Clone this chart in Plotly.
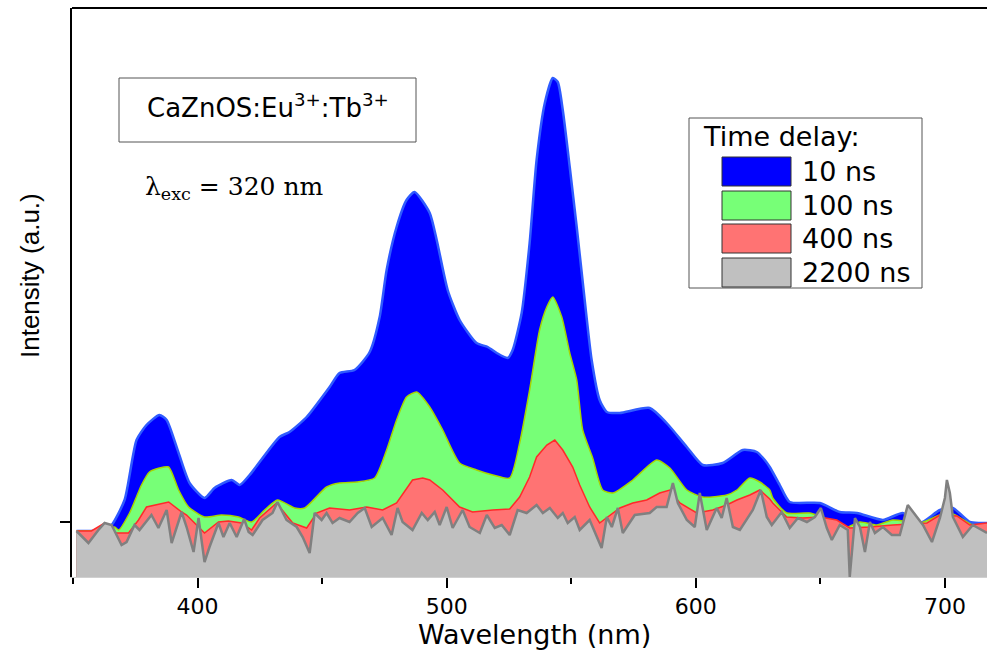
import plotly.graph_objects as go

# ---------------- data (wavelength in nm, intensity in a.u.) ----------------
wl_10ns = [351.4, 357.4, 362.7, 365.5, 370.7, 375.5, 379.5, 384.7, 387.6, 392.4,
           396.8, 402.8, 406.8, 413.7, 416.9, 420.9, 432.9, 436.9, 443.8, 453.0,
           457.0, 463.0, 469.1, 473.1, 475.9, 479.9, 483.9, 487.1, 493.2, 496.0,
           500.4, 505.2, 512.0, 516.5, 520.1, 524.5, 526.5, 530.1, 533.3, 536.1,
           539.4, 542.6, 544.6, 546.6, 549.4, 552.2, 555.4, 558.2, 561.4, 564.3,
           569.5, 581.5, 588.3, 596.4, 602.8, 610.8, 618.9, 624.5, 627.7, 629.7,
           633.7, 637.7, 649.8, 657.8, 664.7, 675.1, 683.1, 690.0, 698.0, 703.2,
           710.0, 714.0, 716.9]
int_10ns = [9.2, 9.2, 9.6, 10.4, 15.4, 27.4, 30.4, 32.4, 31.4, 24.8,
            18.8, 15.8, 17.8, 19.4, 18.4, 20.4, 28.0, 29.0, 32.0, 38.0,
            40.8, 41.4, 45.0, 52.0, 61.4, 70.0, 75.4, 77.0, 72.8, 67.4,
            57.4, 51.4, 46.8, 46.0, 44.8, 43.8, 45.4, 52.8, 66.8, 83.4,
            94.8, 99.8, 99.0, 93.4, 82.0, 70.0, 55.4, 43.4, 35.4, 33.0,
            32.8, 33.8, 30.8, 26.0, 22.4, 22.8, 25.4, 25.0, 23.4, 22.0,
            18.4, 15.0, 14.8, 13.0, 12.8, 11.4, 12.8, 10.8, 13.4, 13.8,
            11.0, 10.8, 10.8]

wl_100ns = [351.4, 362.7, 366.7, 368.3, 372.7, 377.5, 380.7, 384.7, 388.4, 392.4,
            396.4, 402.8, 409.6, 416.5, 421.7, 426.9, 432.1, 439.0, 443.0, 451.8,
            457.0, 464.0, 471.1, 475.9, 479.9, 483.9, 488.0, 493.2, 498.4, 505.2,
            512.0, 518.5, 525.3, 529.3, 533.3, 537.3, 540.2, 542.6, 546.2, 549.4,
            552.2, 554.6, 558.6, 562.6, 566.7, 574.7, 584.3, 589.6, 596.4, 602.8,
            612.4, 616.5, 621.7, 625.7, 629.7, 630.9, 636.5, 645.8, 652.6, 660.6,
            665.9, 672.7, 679.1, 690.0, 698.0, 703.2, 711.2, 716.9]
int_100ns = [9.2, 9.4, 10.0, 9.4, 12.8, 18.4, 21.0, 21.8, 22.0, 17.4,
             14.0, 12.0, 12.4, 12.0, 11.0, 13.4, 15.4, 13.8, 13.8, 18.0,
             18.8, 19.0, 19.8, 25.4, 31.4, 36.0, 37.0, 34.0, 29.4, 22.8,
             21.4, 20.4, 19.8, 26.8, 37.4, 49.4, 54.0, 56.0, 52.0, 44.8,
             39.4, 29.4, 23.8, 17.4, 16.8, 19.4, 23.4, 21.8, 17.4, 16.0,
             16.4, 17.4, 19.8, 19.0, 17.4, 15.8, 12.8, 12.8, 11.6, 10.0,
             11.0, 10.4, 11.4, 10.8, 12.4, 12.6, 10.4, 10.6]

wl_400ns = [351.4, 357.4, 362.7, 366.7, 372.3, 376.3, 379.5, 383.5, 388.4, 393.6,
            395.6, 398.4, 402.8, 408.4, 412.4, 417.7, 421.7, 424.9, 431.7, 438.2,
            443.8, 447.8, 453.0, 461.0, 467.9, 474.3, 479.9, 486.3, 490.4, 493.2,
            498.4, 505.2, 510.4, 518.5, 525.3, 529.3, 533.3, 536.1, 540.2, 543.4,
            546.6, 550.6, 553.4, 557.4, 561.4, 569.5, 574.7, 580.3, 585.5, 589.6,
            593.6, 600.4, 606.8, 612.4, 616.5, 621.7, 625.7, 629.7, 630.9, 636.5,
            643.0, 649.8, 656.6, 661.8, 669.9, 679.1, 692.8, 698.0, 704.8, 710.0,
            716.9]
int_400ns = [9.2, 9.2, 10.8, 8.8, 8.8, 11.4, 14.0, 14.4, 15.0, 13.0,
             12.4, 11.0, 8.8, 11.0, 11.2, 10.8, 9.4, 11.8, 14.8, 10.8,
             9.8, 12.8, 13.8, 13.4, 14.0, 13.4, 14.8, 19.4, 19.8, 19.4,
             17.4, 14.0, 13.0, 13.4, 13.6, 16.0, 20.0, 24.0, 26.4, 27.4,
             25.4, 22.0, 18.4, 14.0, 10.8, 13.8, 14.8, 15.4, 16.8, 17.4,
             14.8, 12.8, 13.4, 14.4, 15.4, 16.4, 17.4, 15.6, 14.8, 12.0,
             11.8, 12.0, 11.4, 9.8, 10.0, 10.4, 10.8, 12.4, 12.2, 10.4,
             10.8]

wl_2200ns = [351.4, 356.2, 360.2, 362.7, 365.5, 369.5, 371.5, 374.7, 376.7, 381.5,
             384.3, 387.6, 389.6, 393.6, 395.6, 398.4, 400.4, 402.8, 404.8, 408.4,
             410.4, 412.9, 415.7, 418.7, 420.5, 422.1, 426.1, 430.1, 432.1, 435.7,
             439.8, 442.2, 445.0, 447.0, 449.8, 451.8, 454.2, 457.0, 461.0, 464.3,
             467.1, 469.9, 474.3, 477.9, 480.3, 482.3, 486.3, 490.0, 492.4, 495.2,
             497.2, 500.0, 502.4, 506.4, 509.2, 513.3, 516.1, 519.3, 522.1, 525.3,
             528.5, 532.1, 536.1, 538.6, 541.4, 544.6, 546.6, 548.6, 551.4, 553.4,
             557.4, 562.2, 564.3, 566.3, 568.7, 570.7, 575.5, 581.5, 584.3, 588.3,
             590.8, 592.8, 596.4, 599.6, 601.6, 604.4, 608.4, 610.4, 612.4, 614.9,
             617.7, 622.9, 626.1, 628.5, 630.5, 634.5, 637.7, 641.0, 644.6, 647.8,
             650.2, 652.6, 654.6, 657.8, 661.0, 661.8, 663.9, 665.9, 667.9, 669.9,
             671.9, 675.1, 678.7, 681.9, 685.1, 688.8, 691.2, 694.8, 698.0, 700.0,
             700.8, 702.0, 703.2, 707.2, 711.2, 716.9]
int_2200ns = [9.2, 6.8, 9.4, 10.8, 10.4, 6.4, 7.0, 10.4, 9.4, 12.4,
              9.8, 13.4, 6.8, 13.0, 10.0, 5.0, 11.8, 3.0, 6.0, 10.8,
              8.0, 10.8, 8.0, 11.6, 9.0, 8.4, 11.4, 12.8, 15.0, 11.4,
              10.0, 8.0, 4.8, 12.8, 11.4, 12.8, 10.8, 11.8, 11.0, 12.8,
              13.8, 10.0, 11.8, 8.4, 13.8, 11.0, 9.4, 12.8, 11.4, 13.0,
              10.4, 14.0, 9.8, 13.4, 10.0, 8.8, 12.4, 9.8, 10.4, 8.4,
              13.4, 12.8, 14.4, 12.8, 13.8, 11.8, 12.8, 10.8, 12.0, 9.4,
              11.4, 5.8, 12.0, 10.0, 13.8, 8.8, 12.4, 12.8, 14.0, 14.0,
              18.8, 14.8, 11.4, 10.0, 16.8, 9.4, 13.8, 11.8, 15.8, 10.0,
              9.4, 13.4, 17.4, 12.0, 10.4, 13.0, 9.8, 11.8, 11.0, 12.0,
              13.8, 9.8, 7.4, 10.4, 9.4, 0.0, 11.8, 10.0, 5.0, 11.0,
              8.8, 10.0, 8.4, 8.4, 14.4, 12.0, 10.4, 7.0, 11.8, 15.8,
              19.4, 16.8, 12.0, 8.0, 10.4, 8.8]

series_labels = ["10 ns", "100 ns", "400 ns", "2200 ns"]
x_ticks = [400, 500, 600, 700]
y_tick = [11.0]

# ---------------- styles ----------------
fill_colors = ["#0000FF", "#77FF77", "#FF7373", "#C0C0C0"]
line_colors = ["#2F5BFF", "#A6D400", "#FF2A2A", "#808080"]
line_widths = [2.5, 1.5, 1.5, 2.5]
shapes_kind = ["spline", "spline", "linear", "linear"]
WIDE = "DejaVu Sans, Verdana, sans-serif"
ARIAL = "Liberation Sans, Arial, sans-serif"
SERIF = "DejaVu Serif, Liberation Serif, serif"

W, H = 987, 653
ML, MR, MT, MB = 72, 0, 8, 76
PW, PH = W - ML - MR, H - MT - MB


def px(xp):
    return (xp - ML) / PW


def py(yp):
    return (H - MB - yp) / PH


fig = go.Figure()
xs = [wl_10ns, wl_100ns, wl_400ns, wl_2200ns]
ys = [int_10ns, int_100ns, int_400ns, int_2200ns]
for i in range(4):
    fig.add_trace(go.Scatter(
        x=xs[i], y=ys[i], name=series_labels[i], mode="lines",
        fill="tozeroy", fillcolor=fill_colors[i],
        line=dict(color=line_colors[i], width=line_widths[i],
                  shape=shapes_kind[i], smoothing=0.6),
        showlegend=False, hoverinfo="x+y+name"))

shapes = []
# top frame line
shapes.append(dict(type="line", xref="paper", yref="paper", x0=0, x1=1, y0=1, y1=1,
                   line=dict(color="black", width=2)))
# sample label box
shapes.append(dict(type="rect", xref="paper", yref="paper",
                   x0=px(119), x1=px(416), y0=py(142), y1=py(78),
                   line=dict(color="#555555", width=1), fillcolor="white"))
# legend box
shapes.append(dict(type="rect", xref="paper", yref="paper",
                   x0=px(689), x1=px(922), y0=py(288), y1=py(118),
                   line=dict(color="#555555", width=1), fillcolor="white"))
sw_tops = [157, 191, 224, 258]
sw_h = 29
annotations = []
for i, top in enumerate(sw_tops):
    shapes.append(dict(type="rect", xref="paper", yref="paper",
                       x0=px(722), x1=px(791), y0=py(top + sw_h), y1=py(top),
                       line=dict(color="#333333", width=1), fillcolor=fill_colors[i]))
    annotations.append(dict(xref="paper", yref="paper", x=px(800), y=py(top + sw_h / 2),
                            text=series_labels[i], showarrow=False, xanchor="left",
                            yanchor="middle", font=dict(family=WIDE, size=27, color="black")))

annotations += [
    dict(xref="paper", yref="paper", x=px(701), y=py(136), text="Time delay:",
         showarrow=False, xanchor="left", yanchor="middle",
         font=dict(family=WIDE, size=27, color="black")),
    dict(xref="paper", yref="paper", x=px(268), y=py(106),
         text="CaZnOS:Eu<sup>3+</sup>:Tb<sup>3+</sup>",
         showarrow=False, xanchor="center", yanchor="middle",
         font=dict(family=WIDE, size=26, color="black")),
    dict(xref="paper", yref="paper", x=px(143), y=py(188),
         text="λ<sub>exc</sub> = 320 nm",
         showarrow=False, xanchor="left", yanchor="middle",
         font=dict(family=SERIF, size=25, color="black")),
    dict(xref="paper", yref="paper", x=px(534), y=py(634), text="Wavelength (nm)",
         showarrow=False, xanchor="center", yanchor="middle",
         font=dict(family=WIDE, size=27, color="black")),
    dict(xref="paper", yref="paper", x=px(30), y=py(276), text="Intensity (a.u.)",
         showarrow=False, xanchor="center", yanchor="middle", textangle=-90,
         font=dict(family=ARIAL, size=26, color="black")),
]

fig.update_layout(
    width=W, height=H, margin=dict(l=ML, r=MR, t=MT, b=MB),
    paper_bgcolor="white", plot_bgcolor="white",
    shapes=shapes, annotations=annotations, showlegend=False,
    xaxis=dict(range=[349.6, 716.9], tickvals=x_ticks, ticktext=[str(v) for v in x_ticks],
               ticks="outside", ticklen=10, tickwidth=2, tickcolor="black",
               minor=dict(tickvals=[350, 450, 550, 650], ticks="outside", ticklen=6,
                          tickwidth=2, tickcolor="black"),
               showline=True, linecolor="#D0D0D0", linewidth=1, showgrid=False,
               zeroline=False, tickfont=dict(family=WIDE, size=22, color="black")),
    yaxis=dict(range=[0, 113.8], tickvals=y_tick, ticktext=[""], ticks="outside",
               ticklen=10, tickwidth=2, tickcolor="black", showline=True,
               linecolor="black", linewidth=2, showgrid=False, zeroline=False),
)

fig.write_html("out.html")
